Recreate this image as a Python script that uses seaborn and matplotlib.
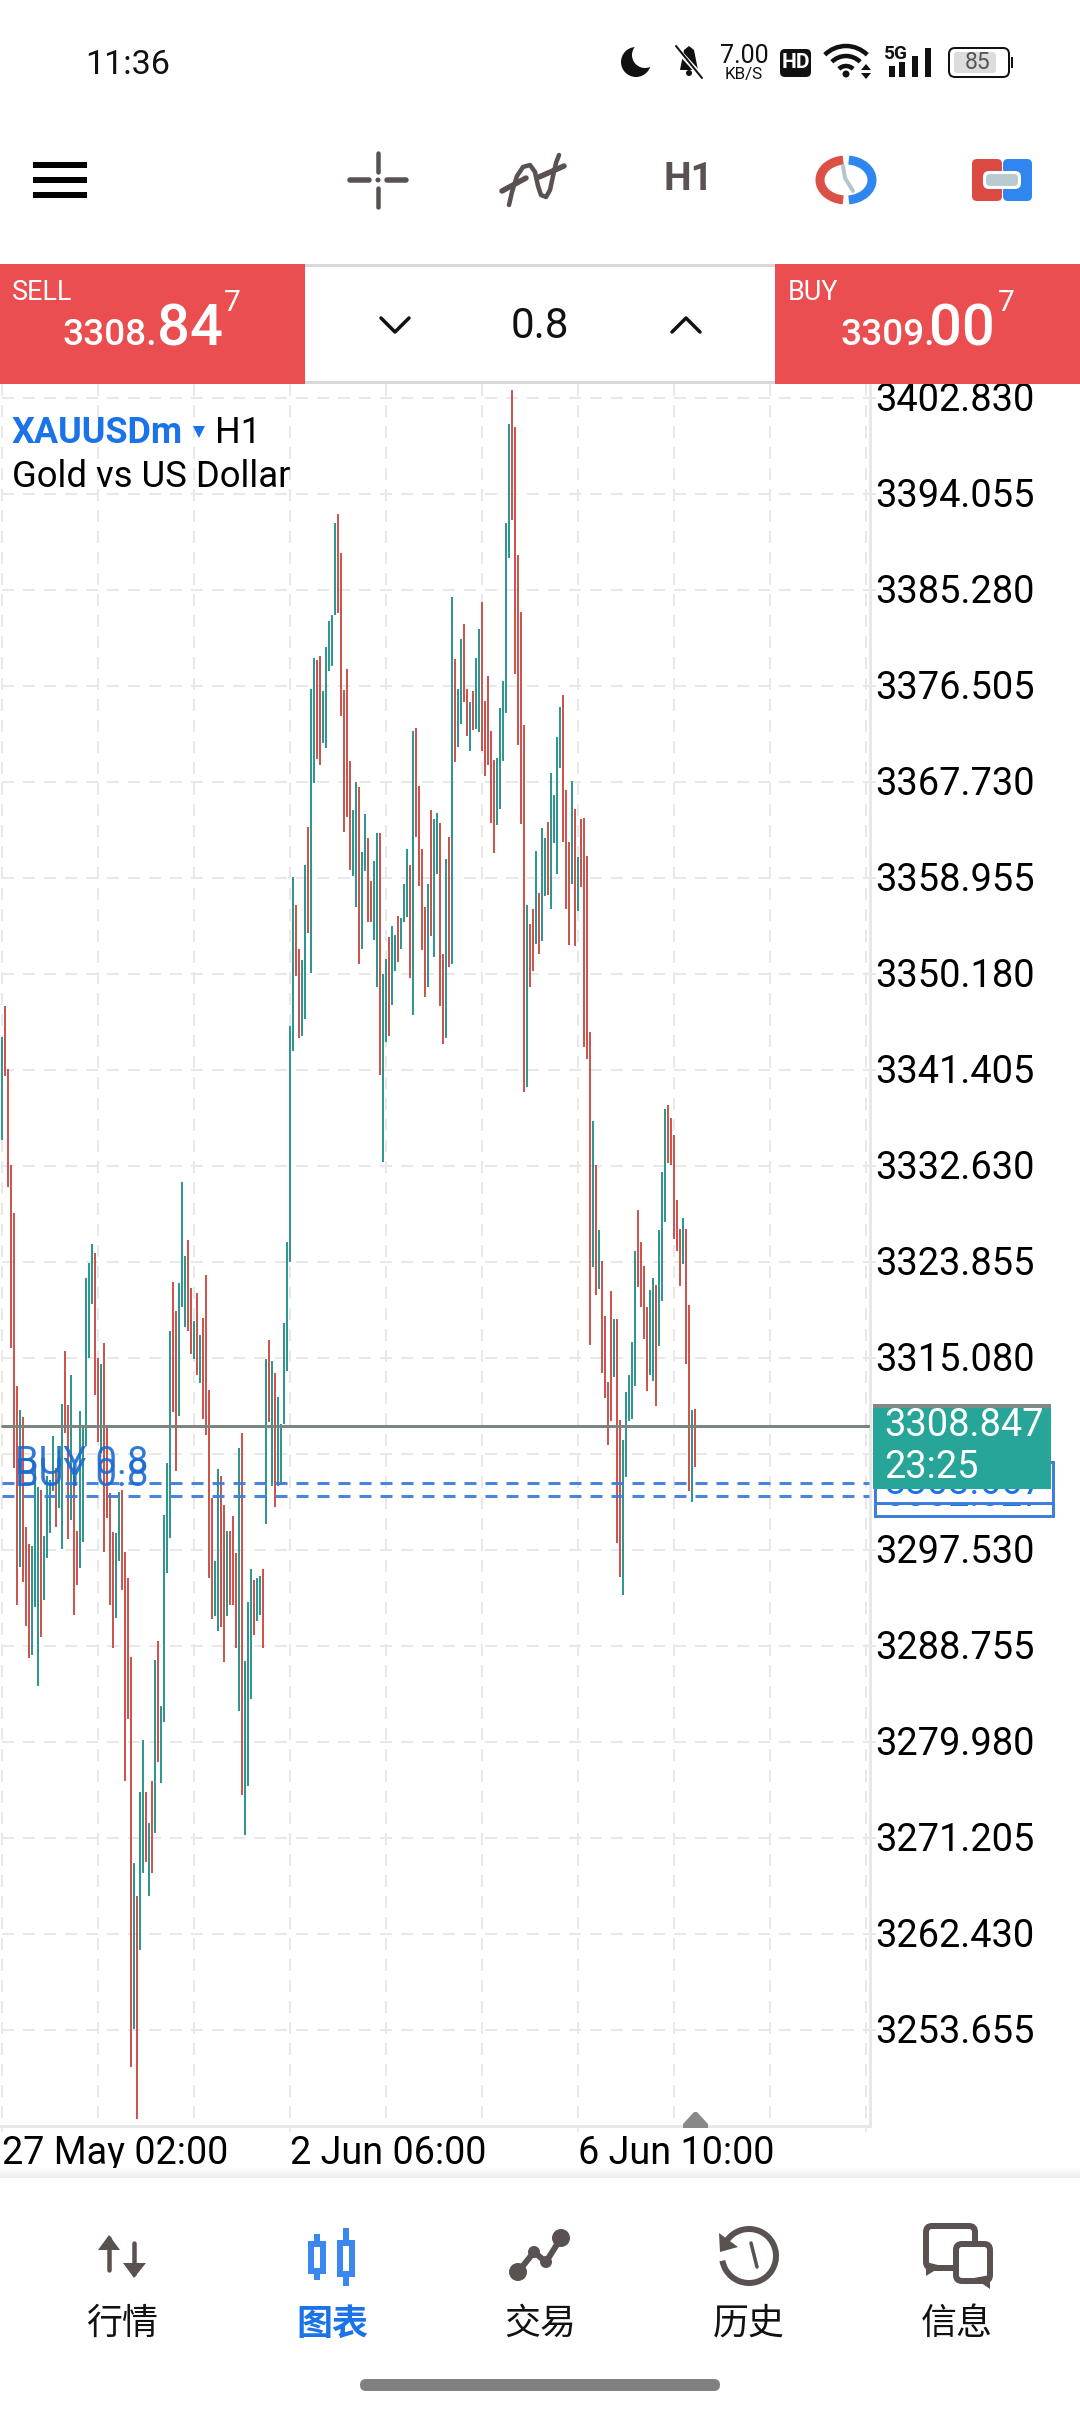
# XAUUSDm H1 chart screen from the trading app
import pandas as pd
import numpy as np
import matplotlib.pyplot as plt
from matplotlib.patches import Rectangle, Circle, Polygon, Arc, FancyBboxPatch
from matplotlib.transforms import ScaledTranslation
import seaborn as sns

# price scale and time labels
price_ticks = [3402.830, 3394.055, 3385.280, 3376.505, 3367.730, 3358.955, 3350.180, 3341.405, 3332.630,
               3323.855, 3315.080, 3306.305, 3297.530, 3288.755, 3279.980, 3271.205, 3262.430, 3253.655]
hidden_label = 3306.305
time_labels = ['27 May 02:00', '2 Jun 06:00', '6 Jun 10:00']

# bar highs and lows, oldest first
highs = [3344.42, 3347.25, 3341.49, 3332.72, 3328.33, 3312.52, 3310.32, 3309.68, 3299.63, 3298.07,
         3297.89, 3304.84, 3303.28, 3303.01, 3298.80, 3304.29, 3303.92, 3307.94, 3305.02, 3306.66,
         3310.87, 3315.71, 3310.78, 3313.52, 3305.11, 3299.26, 3310.23, 3308.68, 3322.39, 3323.76,
         3325.50, 3324.67, 3315.08, 3314.53, 3316.45, 3308.95, 3302.74, 3299.17, 3299.08, 3302.83,
         3303.01, 3297.34, 3294.97, 3287.75, 3268.91, 3265.90, 3275.40, 3280.16, 3275.40, 3272.57,
         3276.41, 3287.47, 3289.21, 3283.27, 3300.73, 3305.48, 3317.54, 3322.02, 3319.37, 3321.93,
         3331.16, 3324.40, 3325.86, 3321.48, 3318.46, 3321.02, 3317.18, 3318.73, 3322.66, 3312.15,
         3302.28, 3296.52, 3304.93, 3304.29, 3301.64, 3299.26, 3299.26, 3300.63, 3297.25, 3306.85,
         3308.22, 3287.38, 3292.77, 3295.79, 3294.78, 3294.97, 3295.15, 3295.79, 3314.98, 3316.72,
         3314.80, 3313.71, 3311.51, 3309.04, 3318.27, 3325.68, 3345.42, 3359.04, 3356.48, 3352.46,
         3351.46, 3360.14, 3363.61, 3376.23, 3379.06, 3378.88, 3379.25, 3376.05, 3380.07, 3382.45,
         3382.99, 3391.40, 3392.23, 3388.66, 3376.14, 3378.06, 3369.65, 3365.17, 3367.73, 3367.27,
         3361.33, 3364.80, 3362.61, 3358.68, 3360.51, 3363.07, 3363.07, 3350.18, 3351.55, 3353.56,
         3354.56, 3353.74, 3355.48, 3355.30, 3358.40, 3361.60, 3360.14, 3372.39, 3372.66, 3367.36,
         3361.60, 3356.30, 3358.40, 3365.17, 3364.35, 3364.89, 3363.98, 3352.01, 3360.69, 3362.70,
         3384.64, 3378.97, 3376.23, 3380.80, 3382.17, 3376.23, 3375.04, 3376.05, 3379.06, 3381.71,
         3384.18, 3375.13, 3377.42, 3372.39, 3369.74, 3369.92, 3374.49, 3376.96, 3391.40, 3400.45,
         3403.56, 3400.18, 3388.48, 3383.27, 3372.94, 3356.48, 3354.75, 3356.12, 3361.42, 3357.58,
         3363.52, 3362.61, 3364.07, 3368.55, 3366.54, 3371.84, 3374.58, 3375.68, 3367.00, 3362.24,
         3367.82, 3365.26, 3360.87, 3364.35, 3364.44, 3360.96, 3344.88, 3336.74, 3332.72, 3326.78,
         3323.94, 3318.92, 3312.88, 3321.20, 3318.64, 3318.64, 3309.41, 3307.58, 3311.97, 3313.52,
         3316.54, 3324.86, 3328.61, 3325.68, 3323.49, 3319.74, 3321.29, 3322.39, 3321.75, 3326.78,
         3332.08, 3337.84, 3338.20, 3337.01, 3335.46, 3329.52, 3326.87, 3327.87, 3326.87, 3319.92,
         3310.32, 3310.41]
lows = [3335.00, 3340.85, 3330.71, 3315.99, 3305.02, 3292.50, 3295.97, 3294.60, 3290.58, 3287.65,
        3287.93, 3292.31, 3285.09, 3289.57, 3292.95, 3296.79, 3299.08, 3302.92, 3299.63, 3301.36,
        3297.61, 3308.22, 3298.53, 3300.27, 3291.58, 3294.32, 3295.88, 3298.25, 3307.03, 3315.08,
        3320.01, 3311.69, 3307.40, 3306.39, 3297.34, 3300.45, 3292.50, 3288.57, 3291.31, 3296.52,
        3293.87, 3276.41, 3282.08, 3250.27, 3253.74, 3245.51, 3260.96, 3268.00, 3269.01, 3265.90,
        3268.00, 3271.66, 3278.15, 3276.23, 3281.81, 3295.42, 3298.62, 3310.14, 3304.75, 3309.77,
        3319.74, 3317.91, 3317.54, 3315.44, 3314.98, 3313.52, 3312.79, 3309.50, 3308.04, 3294.97,
        3291.22, 3291.49, 3290.12, 3290.49, 3287.29, 3291.49, 3292.50, 3292.50, 3288.57, 3282.81,
        3275.13, 3271.47, 3275.95, 3283.90, 3289.75, 3291.03, 3291.58, 3288.57, 3299.90, 3309.23,
        3303.38, 3301.45, 3303.38, 3303.47, 3309.04, 3313.89, 3323.85, 3343.14, 3349.99, 3344.33,
        3344.51, 3346.06, 3353.93, 3350.27, 3367.64, 3369.83, 3369.28, 3371.29, 3370.84, 3377.87,
        3378.33, 3382.99, 3383.18, 3373.76, 3363.16, 3364.53, 3359.68, 3359.14, 3356.30, 3351.09,
        3352.46, 3359.59, 3354.93, 3354.93, 3353.29, 3348.99, 3340.95, 3332.99, 3343.96, 3344.51,
        3347.34, 3350.45, 3351.27, 3352.46, 3354.93, 3355.39, 3349.81, 3346.43, 3362.70, 3358.22,
        3352.37, 3348.07, 3348.99, 3353.65, 3351.73, 3359.32, 3347.25, 3343.78, 3344.33, 3350.82,
        3351.09, 3369.56, 3370.93, 3373.03, 3375.04, 3371.93, 3370.56, 3372.48, 3372.57, 3372.30,
        3370.56, 3368.28, 3369.28, 3363.98, 3361.24, 3363.80, 3365.26, 3369.65, 3374.04, 3388.20,
        3391.68, 3377.60, 3371.11, 3363.89, 3339.39, 3339.85, 3348.99, 3350.45, 3352.92, 3352.01,
        3353.19, 3357.31, 3357.40, 3356.12, 3362.15, 3359.32, 3369.01, 3362.24, 3356.12, 3352.83,
        3358.40, 3352.74, 3355.94, 3358.13, 3343.50, 3342.41, 3316.26, 3323.39, 3320.83, 3321.38,
        3313.71, 3311.42, 3307.12, 3309.32, 3313.34, 3298.16, 3295.06, 3293.41, 3304.20, 3309.32,
        3309.50, 3312.52, 3321.57, 3319.74, 3316.81, 3312.06, 3313.52, 3312.97, 3310.69, 3316.17,
        3320.29, 3327.51, 3332.90, 3332.72, 3325.95, 3324.86, 3321.66, 3323.67, 3314.53, 3302.92,
        3301.91, 3305.11]
# t = teal (up), r = red (down), one letter per bar
sides = ('trrrrrtrrr' 'tttrttttrt' 'trrtrrtttt' 'trrtrrrrtt' 'rrrrtrttrt' 'rtrttttrrt' 'ttrrtrtrrr' 'rttrrtrrrt'
         'rtttrttrtr' 'trttttttrr' 'ttrttrrttt' 'ttrrrrrttr' 'ttrrttrttr' 'ttrtttrtrr' 'rrtrttrrtr' 'trttrrtrtt'
         'rrrrrttttt' 'rrrrrtrrtr' 'ttrttttrrr' 'trtrrrrtrt' 'rrrrtrrttt' 'ttrrrrttrt' 'ttrrrrrtrr' 'tr')

current_price = 3308.847
order_prices = [3303.65, 3302.46]

TEAL = '#2F9790'
RED = '#CC5550'
GRID = '#E8E8E8'
DARK = '#5A5250'
BLUE = '#1A73E8'
ORDER_BLUE = '#3F7FDC'
HEADER_RED = '#EB4E50'

W, H = 1080, 2412
sns.set_style('white')
plt.rcParams['font.family'] = ['Roboto', 'Noto Sans CJK SC', 'DejaVu Sans']
plt.rcParams['lines.scale_dashes'] = False


def pt(px):
    # sizes below are screen pixels, figure is at dpi 100
    return px * 0.72


fig = plt.figure(figsize=(W / 100, H / 100), dpi=100, facecolor='white')

# chart area on the screen
left, right, top, bottom = 0, 869.5, 384, 2125.5
ax = fig.add_axes([left / W, 1 - bottom / H, (right - left) / W, (bottom - top) / H])

candles = pd.DataFrame({'bar': range(len(highs)), 'high': highs, 'low': lows, 'side': list(sides)})
long_df = candles.melt(id_vars=['bar', 'side'], value_vars=['high', 'low'], value_name='price')
sns.lineplot(data=long_df, x='bar', y='price', units='bar', estimator=None, errorbar=None,
             hue='side', palette={'t': TEAL, 'r': RED}, linewidth=pt(2), solid_capstyle='butt',
             legend=False, ax=ax, zorder=3)

# one grid cell is 96 px = 8.775 on the price axis, bars are 3 px apart
px_per_price = 96 / (price_ticks[0] - price_ticks[1])
ax.set_ylim(price_ticks[0] - (bottom - 398) / px_per_price, price_ticks[0] + (398 - top) / px_per_price)
ax.set_xlim(-2 / 3, (right - 2) / 3)

ax.set_xticks(range(0, 289, 96))
ax.set_xticks(range(32, 289, 32), minor=True)
ax.set_xticklabels(time_labels + [''], ha='left', fontsize=pt(37.8), color='black')
ax.set_yticks(price_ticks)
ax.yaxis.tick_right()
ax.set_yticklabels(['%.3f' % p if p != hidden_label else '' for p in price_ticks], fontsize=pt(38), color='black')
ax.set_xlabel('')
ax.set_ylabel('')
ax.tick_params(axis='y', length=pt(6), width=pt(2), color=GRID, pad=pt(-0.5), right=True, left=False)
ax.tick_params(axis='x', which='major', length=pt(6), width=pt(2), color=GRID, pad=pt(3.5), bottom=True)
ax.tick_params(axis='x', which='minor', length=0)
for tick_text in ax.get_yticklabels():
    tick_text.set_transform(tick_text.get_transform() + ScaledTranslation(0, 1.2 / 100, fig.dpi_scale_trans))

ax.set_axisbelow(True)
ax.xaxis.grid(True, which='both', color=GRID, linewidth=pt(2), linestyle=(pt(13), (pt(12), pt(9))))
ax.yaxis.grid(True, color=GRID, linewidth=pt(2), linestyle=(pt(19), (pt(12), pt(9))))

for side in ['top', 'left']:
    ax.spines[side].set_visible(False)
for side in ['right', 'bottom']:
    ax.spines[side].set_color(GRID)
    ax.spines[side].set_linewidth(pt(3))

# current price and the two open orders
x_end = (right - 2) / 3
ax.plot([0, x_end], [current_price, current_price], color='#7A8580', linewidth=pt(3), zorder=5)
for p in order_prices:
    ax.plot([0, x_end], [p, p], color=ORDER_BLUE, linewidth=pt(3), zorder=5,
            linestyle=(0, (pt(12), pt(9))), alpha=0.95)

# everything around the chart is drawn in screen pixels on a second axes
ui = fig.add_axes([0, 0, 1, 1], facecolor='none')
ui.set_xlim(0, W)
ui.set_ylim(H, 0)
ui.axis('off')


def label(x, y, s, size, color='black', ha='left', va='center', **kw):
    # matplotlib centres on the full text box, 2 px high against the app
    if va == 'center':
        y = y + 2
    ui.text(x, y, s, fontsize=pt(size), color=color, ha=ha, va=va, **kw)


def rect(x0, y0, x1, y1, color, **kw):
    ui.add_patch(Rectangle((x0, y0), x1 - x0, y1 - y0, facecolor=color, edgecolor='none', **kw))


def line(xs, ys, color=DARK, lw=4, cap='round', **kw):
    ui.plot(xs, ys, color=color, linewidth=pt(lw), solid_capstyle=cap, solid_joinstyle='round', **kw)


def rounded(x0, y0, x1, y1, r, face, edge='none', lw=0):
    ui.add_patch(FancyBboxPatch((x0 + r, y0 + r), x1 - x0 - 2 * r, y1 - y0 - 2 * r,
                                boxstyle='round,pad=%f' % r, facecolor=face, edgecolor=edge, linewidth=pt(lw)))


# order labels on the price axis, behind the teal price box
z = 10
for y0, y1, txt, ty in [(1475, 1516, '3302.027', 1494), (1462, 1503, '3303.667', 1481)]:
    ui.add_patch(Rectangle((875, y0), 178, y1 - y0, facecolor='white', edgecolor=ORDER_BLUE,
                           linewidth=pt(3), zorder=z))
    label(884, ty, txt, 38, color=BLUE, zorder=z + 1)
    z += 2
rect(873, 1404, 1051, 1489, '#28A599', zorder=z)
rect(873, 1404, 1051, 1408, '#7F8A85', zorder=z)
label(884, 1424, '3308.847', 38, color='white', zorder=z + 1)
label(884, 1465, '23:25', 38, color='white', zorder=z + 1)

# two order tags sit on top of each other in the app
label(15, 1461, 'BUY 0.8', 38, color='#1A6BD0', alpha=0.9)
label(15, 1474, 'BUY 0.8', 38, color='#1A6BD0', alpha=0.9)

# symbol name
label(12, 431, 'XAUUSDm', 36, color=BLUE, fontweight='bold')
ui.add_patch(Polygon([(193, 426), (205, 426), (199, 438)], facecolor=BLUE, edgecolor='none'))
label(215, 431, 'H1', 36)
label(12, 475, 'Gold vs US Dollar', 36.5)

# small gray marker on the time axis
ui.add_patch(Polygon([(683, 2128), (708, 2128), (708, 2124), (697, 2112), (694, 2112), (683, 2124)],
                     facecolor='#888888', edgecolor='none'))

# status bar
label(85, 62.5, '11:36', 34, color='#111111')
ui.add_patch(Circle((636, 62), 15, facecolor='#111111', edgecolor='none'))
ui.add_patch(Circle((645, 55), 13, facecolor='white', edgecolor='none'))
ui.add_patch(Polygon([(680, 70), (684, 50), (689, 46), (694, 50), (698, 70)], facecolor='#111111', edgecolor='none'))
ui.add_patch(Circle((689, 73), 3, facecolor='#111111', edgecolor='none'))
line([675, 703], [47, 78], color='white', lw=5)
line([676, 702], [46, 78], color='#111111', lw=2)
label(744, 54, '7.00', 25, color='#111111', ha='center')
label(744, 72, 'KB/S', 17, color='#111111', ha='center')
rounded(780, 49, 811, 77, 5, '#111111')
label(795.5, 61, 'HD', 21, color='white', ha='center', fontweight='bold')
for r in [30, 20, 10]:
    ui.add_patch(Arc((846, 76), 2 * r, 2 * r, theta1=225, theta2=315, color='#111111', linewidth=pt(4.5)))
ui.add_patch(Circle((846, 74), 3.5, facecolor='#111111', edgecolor='none'))
ui.add_patch(Polygon([(861, 70), (871, 70), (866, 64)], facecolor='#111111', edgecolor='none'))
ui.add_patch(Polygon([(861, 73), (871, 73), (866, 79)], facecolor='#111111', edgecolor='none'))
label(896, 52, '5G', 19, color='#111111', ha='center', fontweight='bold')
for x, y_top in zip([889, 899, 912, 925], [66, 62, 56, 48]):
    rect(x, y_top, x + 6, 77, '#111111')
rounded(949, 48, 1009, 77, 6, 'white', edge='#111111', lw=2)
rounded(954, 52, 996, 73, 3, '#DCDCDC')
rect(1011, 57, 1013, 68, '#111111')
label(978, 60.5, '85', 23, color='#555555', ha='center')

# toolbar
for y in [162, 177, 192]:
    rect(33, y, 87, y + 6, 'black')
line([378, 378], [153, 172], lw=4.5)
line([378, 378], [188, 207], lw=4.5)
line([350, 369], [180, 180], lw=5.5)
line([387, 406], [180, 180], lw=5.5)
ui.add_patch(Circle((378, 180), 2.5, facecolor=DARK, edgecolor='none'))
# indicator icon: a wave crossed by a broken diagonal
line([509, 512, 517, 523, 530, 535, 538, 541, 546, 550, 553, 556, 559],
     [205, 192, 176, 167, 165, 172, 186, 195, 197, 190, 176, 163, 155], lw=4.5)
line([502, 526], [191, 178], lw=5.5)
line([539, 564], [177, 166], lw=5.5)
label(688, 178, 'H1', 39, color=DARK, ha='center', fontweight='bold')

ui.add_patch(Arc((846, 180), 52, 40, theta1=98, theta2=262, color='#DB5146', linewidth=pt(9)))
ui.add_patch(Arc((846, 180), 52, 40, theta1=-82, theta2=82, color='#2F86EE', linewidth=pt(9)))
line([843, 845, 853], [166, 178, 191], color='#B5C4CB', lw=4)

rounded(972, 159, 1002, 201, 5, '#DC4B43')
rounded(1003, 159, 1032, 201, 5, '#2F86EE')
rounded(983, 171, 1021, 189, 6, 'white')
rounded(986, 174, 1018, 186, 4, '#B9CBD0')

# sell / buy panel
rect(305, 264, 775, 267, '#D9D9D9')
rect(305, 381, 775, 384, '#D9D9D9')
rect(0, 264, 305, 384, HEADER_RED)
rect(775, 264, 1080, 384, HEADER_RED)
label(12, 291, 'SELL', 27, color='white')
label(63, 345, '3308.', 37, color='white', va='baseline', fontweight='medium')
label(157, 345, '84', 58, color='white', va='baseline', fontweight='medium')
label(224, 311, '7', 30, color='white', va='baseline')
label(788, 291, 'BUY', 27, color='white')
label(840, 345, '3309.', 37, color='white', va='baseline', fontweight='medium')
label(929, 345, '00', 58, color='white', va='baseline', fontweight='medium')
label(998, 311, '7', 30, color='white', va='baseline')
line([381, 395, 409], [318, 332, 318], color='#111111', lw=3.5)
line([672, 686, 700], [332, 318, 332], color='#111111', lw=3.5)
label(540, 325, '0.8', 42, color='#111111', ha='center')

# soft shadow above the bottom navigation
for k, y in enumerate(range(2168, 2178)):
    g = 1 - 0.007 * (k + 1)
    rect(0, y, W, y + 1, (g, g, g))

# bottom navigation
line([109, 109], [2238, 2270], lw=4.5)
ui.add_patch(Polygon([(98, 2250), (120, 2250), (109, 2235)], facecolor=DARK, edgecolor='none'))
line([134, 134], [2243, 2274], lw=4.5)
ui.add_patch(Polygon([(123, 2263), (146, 2263), (134, 2278)], facecolor=DARK, edgecolor='none'))

NAV_BLUE = '#3B87F0'
line([317, 317], [2234, 2280], color=NAV_BLUE, lw=6, cap='butt', zorder=1)
ui.add_patch(Rectangle((311, 2244), 12, 27, facecolor='white', edgecolor=NAV_BLUE, linewidth=pt(6), zorder=2))
line([346, 346], [2228, 2286], color=NAV_BLUE, lw=6, cap='butt', zorder=1)
ui.add_patch(Rectangle((340, 2243), 12, 31, facecolor='white', edgecolor=NAV_BLUE, linewidth=pt(6), zorder=2))

line([518, 534, 546, 561], [2272, 2252, 2262, 2238], lw=6)
for x, y, r in [(518, 2272, 9), (534, 2252, 6), (546, 2262, 6), (561, 2238, 9)]:
    ui.add_patch(Circle((x, y), r, facecolor=DARK, edgecolor='none'))

ui.add_patch(Arc((749, 2256), 54, 54, theta1=215, theta2=530, color=DARK, linewidth=pt(6)))
ui.add_patch(Polygon([(719, 2233), (720, 2252), (738, 2247)], facecolor=DARK, edgecolor='none'))
line([751, 757], [2243, 2267], lw=3.5)

rounded(926, 2226, 975, 2268, 6, 'white', edge=DARK, lw=6)
ui.add_patch(Polygon([(926, 2262), (926, 2276), (942, 2266)], facecolor=DARK, edgecolor='none'))
rounded(956, 2244, 990, 2281, 6, 'white', edge=DARK, lw=6)
ui.add_patch(Polygon([(990, 2275), (990, 2289), (974, 2278)], facecolor=DARK, edgecolor='none'))

nav_names = ['行情', '图表', '交易', '历史', '信息']
nav_x = [122, 332, 540, 749, 957]
for name, x in zip(nav_names, nav_x):
    active = name == '图表'
    label(x, 2322, name, 36, color=BLUE if active else '#111111', ha='center',
          family='Noto Sans CJK SC', fontweight='bold' if active else 'regular')

rounded(360, 2379, 720, 2391, 6, '#808080')

fig.savefig('out.png', dpi=100, facecolor='white')
